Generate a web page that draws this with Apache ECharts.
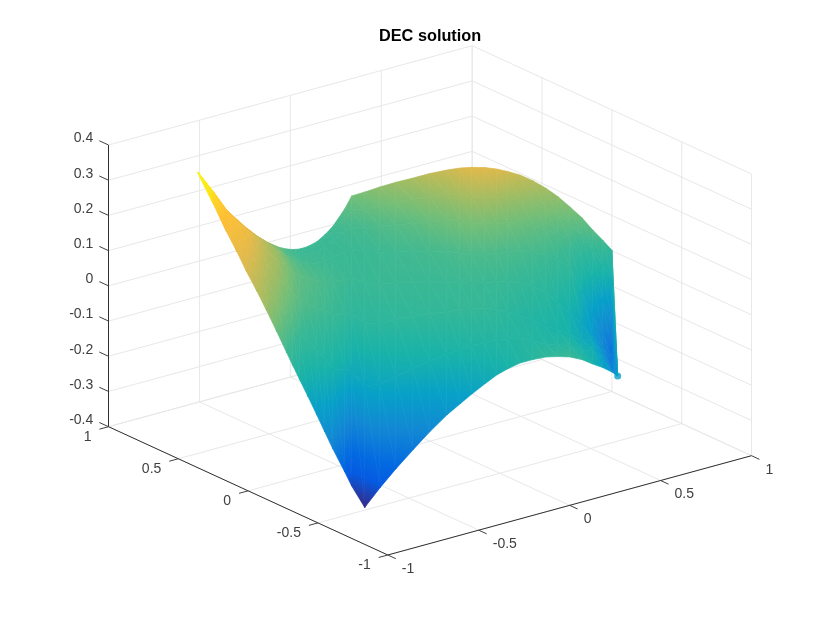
<!DOCTYPE html>
<html><head><meta charset="utf-8">
<style>html,body{margin:0;padding:0;background:#fff}#c{width:830px;height:623px}</style>
<script src="https://cdn.jsdelivr.net/npm/echarts@6/dist/echarts.min.js"></script>
</head><body><div id="c"></div>
<script>
const titleText = 'DEC solution';
const xTicks = [-1, -0.5, 0, 0.5, 1];
const yTicks = [-1, -0.5, 0, 0.5, 1];
const zTicks = [-0.4, -0.3, -0.2, -0.1, 0, 0.1, 0.2, 0.3, 0.4];
const zBottom = -0.4, zTop = 0.4;

// Surface samples: each section runs across the surface from its far edge to its near edge.
const farEdgeX  = [-0.710,-0.726,-0.747,-0.737,-0.721,-0.635,-0.540,-0.369,-0.204,-0.160,-0.103,-0.056,0.011,0.079,0.160,0.245,0.289,0.326,0.360,0.403,0.450,0.475,0.516,0.528,0.548,0.591,0.640,0.696,0.749,0.806,0.851,0.892,0.923,0.946,0.957,0.978,1.002,0.410];
const farEdgeY  = [0.739,0.610,0.483,0.424,0.373,0.413,0.466,0.616,0.760,0.773,0.798,0.801,0.824,0.856,0.905,0.928,0.937,0.892,0.829,0.770,0.708,0.621,0.551,0.474,0.414,0.378,0.355,0.350,0.331,0.313,0.280,0.246,0.201,0.144,0.081,0.036,0.003,-0.810];
const nearEdgeX = [-0.710,-0.798,-0.875,-0.925,-0.977,-0.986,-0.997,-0.953,-0.929,-0.928,-0.901,-0.886,-0.884,-0.891,-0.898,-0.827,-0.778,-0.802,-0.751,-0.665,-0.574,-0.474,-0.380,-0.308,-0.248,-0.182,-0.129,-0.089,-0.052,-0.027,-0.011,0.016,0.036,0.132,0.247,0.385,0.475,0.410];
const nearEdgeY = [0.739,0.516,0.317,0.178,0.040,-0.045,-0.130,-0.145,-0.185,-0.226,-0.241,-0.280,-0.341,-0.407,-0.474,-0.467,-0.452,-0.577,-0.619,-0.621,-0.625,-0.614,-0.615,-0.615,-0.622,-0.629,-0.646,-0.673,-0.712,-0.771,-0.842,-0.894,-0.954,-0.915,-0.844,-0.735,-0.683,-0.810];
const acrossFractions = [0,0.03,0.08,0.2,0.4,0.6,0.8,1];
const surfaceZ = [
 [0.33,0.33,0.33,0.33,0.33,0.33,0.33,0.33],
 [0.302,0.302,0.302,0.299,0.299,0.295,0.295,0.295],
 [0.274,0.274,0.274,0.274,0.271,0.267,0.264,0.26],
 [0.257,0.257,0.257,0.26,0.257,0.25,0.243,0.236],
 [0.239,0.239,0.243,0.246,0.239,0.229,0.218,0.211],
 [0.197,0.201,0.204,0.208,0.204,0.197,0.183,0.173],
 [0.155,0.162,0.166,0.169,0.166,0.155,0.145,0.134],
 [0.092,0.099,0.106,0.127,0.141,0.134,0.113,0.071],
 [0.036,0.036,0.043,0.071,0.099,0.099,0.064,0.015],
 [0.026,0.029,0.033,0.054,0.078,0.075,0.04,-0.013],
 [0.015,0.015,0.019,0.036,0.06,0.053,0.015,-0.055],
 [0.015,0.015,0.019,0.029,0.05,0.04,-0.003,-0.097],
 [0.015,0.015,0.015,0.022,0.04,0.03,-0.02,-0.139],
 [0.019,0.015,0.015,0.019,0.033,0.023,-0.041,-0.174],
 [0.022,0.019,0.015,0.015,0.026,0.012,-0.062,-0.209],
 [0.057,0.036,0.022,0.015,0.018,0.003,-0.076,-0.286],
 [0.085,0.057,0.029,0.015,0.015,-0.009,-0.09,-0.335],
 [0.099,0.064,0.029,0.015,0.012,-0.016,-0.111,-0.37],
 [0.12,0.078,0.043,0.019,0.014,-0.016,-0.104,-0.314],
 [0.138,0.092,0.05,0.022,0.014,-0.009,-0.09,-0.272],
 [0.155,0.106,0.057,0.026,0.014,-0.006,-0.076,-0.23],
 [0.18,0.124,0.071,0.029,0.014,-0.002,-0.066,-0.195],
 [0.197,0.141,0.085,0.033,0.014,-0.002,-0.055,-0.16],
 [0.215,0.148,0.089,0.036,0.016,0.003,-0.048,-0.139],
 [0.225,0.152,0.092,0.036,0.017,0.005,-0.041,-0.118],
 [0.225,0.152,0.089,0.036,0.015,0.001,-0.038,-0.097],
 [0.218,0.148,0.085,0.036,0.015,-0.006,-0.034,-0.076],
 [0.204,0.138,0.082,0.036,0.012,-0.017,-0.034,-0.059],
 [0.19,0.127,0.078,0.036,0.005,-0.027,-0.03,-0.041],
 [0.169,0.113,0.068,0.029,-0.006,-0.038,-0.034,-0.024],
 [0.148,0.099,0.057,0.022,-0.017,-0.048,-0.034,-0.006],
 [0.124,0.082,0.043,0.008,-0.045,-0.055,-0.031,0.001],
 [0.099,0.064,0.033,-0.006,-0.069,-0.062,-0.027,0.008],
 [0.075,0.033,-0.017,-0.076,-0.104,-0.09,-0.055,-0.02],
 [0.05,0.001,-0.062,-0.139,-0.139,-0.104,-0.076,-0.062],
 [0.026,-0.038,-0.129,-0.195,-0.188,-0.16,-0.132,-0.111],
 [0.001,-0.076,-0.195,-0.244,-0.23,-0.216,-0.181,-0.146],
 [-0.125,-0.125,-0.125,-0.125,-0.125,-0.125,-0.125,-0.125]
];
const colorMin = -0.37, colorMax = 0.33;
const colorPositions = [0,0.09,0.15,0.25,0.35,0.45,0.55,0.65,0.75,0.85,0.92,1];
const colorValues = [[53,42,135],[5,90,225],[3,105,225],[18,135,212],[7,160,200],[26,179,168],[58,184,148],[114,190,120],[170,188,95],[225,185,75],[254,190,50],[249,251,14]];

// View transform of the 3-D box on the flat plane of the hidden axes
const view = {ox:430, oy:300.35, xx:181.85, xy:-49.65, yx:-139.65, yy:-64.15, zy:-352.1};
function project(x,y,z){ return [view.ox+view.xx*x+view.yx*y, view.oy+view.xy*x+view.yy*y+view.zy*z]; }

function colorAt(t){
  t=Math.max(0,Math.min(1,t));
  let i=0; while(i<colorPositions.length-2 && t>colorPositions[i+1]) i++;
  const f=(t-colorPositions[i])/(colorPositions[i+1]-colorPositions[i]);
  const a=colorValues[i],b=colorValues[i+1];
  return 'rgb('+a.map((v,k)=>Math.round(v+(b[k]-v)*f)).join(',')+')';
}
function norm(z){ return Math.max(0,Math.min(1,(z-colorMin)/(colorMax-colorMin))); }

// Mesh vertices
const verts = surfaceZ.map((col,j)=>col.map((z,k)=>{
  const f=acrossFractions[k];
  return [farEdgeX[j]+(nearEdgeX[j]-farEdgeX[j])*f, farEdgeY[j]+(nearEdgeY[j]-farEdgeY[j])*f, z];
}));
const tris=[];
for(let j=0;j<verts.length-1;j++) for(let k=0;k<acrossFractions.length-1;k++){
  const a=verts[j][k],b=verts[j+1][k],c=verts[j+1][k+1],d=verts[j][k+1];
  tris.push([a,b,c]); tris.push([a,c,d]);
}

function shade(p){ // p: [{x,y,v}x3] — paints z linearly across the triangle
  const [a,b,c]=p;
  const vmin=Math.min(a.v,b.v,c.v), vmax=Math.max(a.v,b.v,c.v);
  const d=(b.x-a.x)*(c.y-a.y)-(c.x-a.x)*(b.y-a.y);
  if(Math.abs(d)<0.05||vmax-vmin<1e-4) return colorAt((a.v+b.v+c.v)/3);
  const gx=((b.v-a.v)*(c.y-a.y)-(c.v-a.v)*(b.y-a.y))/d;
  const gy=((c.v-a.v)*(b.x-a.x)-(b.v-a.v)*(c.x-a.x))/d;
  const s=p.find(q=>q.v===vmin);
  const g2=gx*gx+gy*gy, r=(vmax-vmin)/g2;
  const stops=[{offset:0,color:colorAt(vmin)}];
  colorPositions.forEach(t=>{ if(t>vmin&&t<vmax) stops.push({offset:(t-vmin)/(vmax-vmin),color:colorAt(t)}); });
  stops.push({offset:1,color:colorAt(vmax)});
  return new echarts.graphic.LinearGradient(s.x,s.y,s.x+gx*r,s.y+gy*r,stops,true);
}

// Box grid and axes, from the tick lists
const gridSegs=[];
xTicks.forEach(x=>{gridSegs.push([x,-1,zBottom,x,1,zBottom]);gridSegs.push([x,1,zBottom,x,1,zTop]);});
yTicks.forEach(y=>{gridSegs.push([-1,y,zBottom,1,y,zBottom]);gridSegs.push([1,y,zBottom,1,y,zTop]);});
zTicks.forEach(z=>{gridSegs.push([-1,1,z,1,1,z]);gridSegs.push([1,-1,z,1,1,z]);});
const axisSegs=[[-1,1,zBottom,-1,1,zTop],[-1,-1,zBottom,1,-1,zBottom],[-1,-1,zBottom,-1,1,zBottom]];
const tickSegs=[];
zTicks.forEach(z=>tickSegs.push([-1,1,z,-1,1.066,z]));
yTicks.forEach(y=>tickSegs.push([-1,y,zBottom,-1.05,y,zBottom]));
xTicks.forEach(x=>tickSegs.push([x,-1,zBottom,x,-1.057,zBottom]));

function segSeries(data,color,width,z){
  return {type:'custom',silent:true,animation:false,clip:false,z,
    data:data.map(s=>({value:s})),
    renderItem(params,api){
      const s=data[params.dataIndex];
      const p=api.coord(project(s[0],s[1],s[2])), q=api.coord(project(s[3],s[4],s[5]));
      return {type:'line',shape:{x1:p[0],y1:p[1],x2:q[0],y2:q[1]},style:{stroke:color,lineWidth:width,fill:null}};
    }};
}
function labelSeries(data,toPoint,align,dx,dy){
  return {type:'custom',silent:true,animation:false,clip:false,z:6,
    data:data.map(v=>({value:[v]})),
    renderItem(params,api){
      const v=data[params.dataIndex], p=api.coord(project(...toPoint(v)));
      return {type:'text',x:p[0]+dx,y:p[1]+dy,style:{text:String(v),font:'14px "Liberation Sans"',fill:'#404040',textAlign:align,textVerticalAlign:'middle'}};
    }};
}
const tip=verts[verts.length-1][0];

const chart=echarts.init(document.getElementById('c'),null,{renderer:'canvas'});
chart.setOption({
  animation:false,
  backgroundColor:'#ffffff',
  title:{text:titleText,left:374,top:24,textStyle:{fontFamily:'Liberation Sans',fontSize:16.3,fontWeight:'bold',color:'#000'}},
  grid:{left:0,right:0,top:0,bottom:0},
  xAxis:{type:'value',min:0,max:830,show:false},
  yAxis:{type:'value',min:0,max:623,inverse:true,show:false},
  series:[
    segSeries(gridSegs,'#e8e8e8',1,1),
    {type:'custom',silent:true,animation:false,clip:false,z:3,progressive:0,
      data:tris.map((t,i)=>({value:[i]})),
      renderItem(params,api){
        const t=tris[params.dataIndex];
        const p=t.map(v=>{const q=api.coord(project(v[0],v[1],v[2]));return {x:q[0],y:q[1],v:norm(v[2])};});
        const fill=shade(p);
        return {type:'polygon',shape:{points:p.map(q=>[q.x,q.y])},style:{fill,stroke:fill,lineWidth:0.7,lineJoin:'round'}};
      }},
    {type:'scatter',silent:true,z:4,symbol:'circle',symbolSize:7,itemStyle:{color:colorAt(norm(tip[2]))},
      data:[project(tip[0],tip[1],tip[2])]},
    segSeries(axisSegs,'#303030',1,5),
    segSeries(tickSegs,'#404040',1,5),
    labelSeries(zTicks,v=>[-1,1,v],'right',-15.2,-6.5),
    labelSeries(yTicks,v=>[-1,v,zBottom],'right',-17,10.5),
    labelSeries(xTicks,v=>[v,-1,zBottom],'left',14,14)
  ]
});
</script></body></html>
